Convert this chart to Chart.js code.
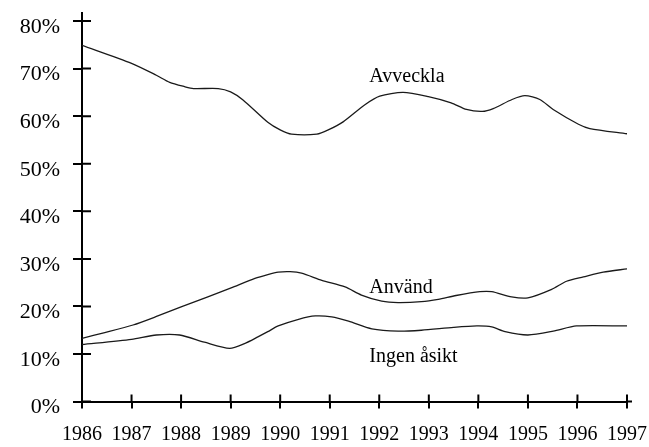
<!DOCTYPE html>
<html>
<head>
<meta charset="utf-8">
<script src="https://cdn.jsdelivr.net/npm/chart.js@4.4.1/dist/chart.umd.min.js"></script>
<style>
  html, body { margin: 0; padding: 0; background: #fff; }
  #wrap { width: 649px; height: 447px; position: relative; }
</style>
</head>
<body>
<div id="wrap"><canvas id="c" width="649" height="447"></canvas></div>
<script>
// ---- Data ----
const yearTicks = [1986, 1987, 1988, 1989, 1990, 1991, 1992, 1993, 1994, 1995, 1996, 1997];
const percentTicks = [0, 10, 20, 30, 40, 50, 60, 70, 80];

const avvecklaYears  = [1986, 1987, 1987.5, 1987.77, 1988.07, 1988.25, 1988.75, 1989, 1989.25, 1989.75, 1990, 1990.23, 1990.74, 1990.97, 1991.27, 1991.71, 1992.01, 1992.48, 1992.99, 1993.45, 1993.76, 1994.08, 1994.3, 1994.68, 1994.94, 1995.24, 1995.51, 1996.02, 1996.25, 1997];
const avvecklaValues = [74.9, 71.1, 68.6, 67.1, 66.2, 65.8, 65.8, 65.1, 63.4, 58.7, 57.1, 56.2, 56.2, 57.1, 58.8, 62.4, 64.2, 65.0, 64.1, 62.8, 61.4, 61.0, 61.6, 63.5, 64.3, 63.5, 61.4, 58.3, 57.4, 56.3];

const anvandYears  = [1986, 1986.46, 1987.03, 1987.53, 1988, 1988.54, 1989.01, 1989.49, 1989.75, 1989.96, 1990.2, 1990.43, 1990.84, 1991.31, 1991.64, 1992.05, 1992.38, 1992.85, 1993.19, 1993.55, 1994.03, 1994.27, 1994.67, 1995.0, 1995.48, 1995.78, 1996.12, 1996.52, 1997];
const anvandValues = [13.3, 14.5, 16.1, 18.0, 19.9, 22.0, 23.9, 25.9, 26.7, 27.2, 27.3, 27.0, 25.5, 24.1, 22.4, 21.1, 20.8, 21.0, 21.5, 22.3, 23.1, 23.1, 22.0, 21.8, 23.6, 25.3, 26.2, 27.2, 27.9];

const ingenYears  = [1986, 1987, 1987.5, 1987.97, 1988.47, 1988.98, 1989.28, 1989.55, 1989.75, 1989.96, 1990.37, 1990.71, 1991.04, 1991.38, 1991.85, 1992.38, 1992.85, 1993.5, 1993.97, 1994.27, 1994.54, 1995.0, 1995.51, 1995.98, 1997];
const ingenValues = [12.0, 13.1, 14.0, 14.0, 12.5, 11.2, 12.2, 13.6, 14.7, 15.9, 17.3, 18.0, 17.8, 16.9, 15.3, 14.8, 15.0, 15.6, 15.9, 15.7, 14.7, 14.0, 14.8, 15.9, 15.9];

const seriesLabels = ["Avveckla", "Använd", "Ingen åsikt"];
const labelYears   = [1991.8, 1991.8, 1991.8];
const labelValues  = [67.2, 22.9, 8.4];

// ---- Chart ----
const FONT = '"Liberation Serif", "Times New Roman", serif';
function pts(xs, ys) { return xs.map((x, i) => ({ x: x, y: ys[i] })); }

const lineStyle = { borderColor: '#1a1a1a', borderWidth: 1.3, pointRadius: 0, fill: false, tension: 0.25 };

const crossTicks = {
  id: 'crossTicks',
  afterDraw(chart) {
    const ctx = chart.ctx, a = chart.chartArea;
    const xs = chart.scales.x, ys = chart.scales.y;
    ctx.save();
    ctx.strokeStyle = '#000';
    ctx.lineWidth = 2;
    ctx.beginPath();
    // inner halves of tick marks
    percentTicks.forEach(v => { const p = ys.getPixelForValue(v); ctx.moveTo(a.left, p); ctx.lineTo(a.left + 9, p); });
    yearTicks.forEach(v => { const p = xs.getPixelForValue(v); ctx.moveTo(p, a.bottom); ctx.lineTo(p, a.bottom - 7); });
    // axis overhangs
    ctx.moveTo(a.left, a.top); ctx.lineTo(a.left, a.top - 9);
    ctx.moveTo(a.right, a.bottom); ctx.lineTo(a.right + 5, a.bottom);
    ctx.stroke();
    // series labels
    ctx.fillStyle = '#000';
    ctx.font = '20px ' + FONT;
    ctx.textAlign = 'left';
    ctx.textBaseline = 'alphabetic';
    seriesLabels.forEach((t, i) => {
      ctx.fillText(t, xs.getPixelForValue(labelYears[i]), ys.getPixelForValue(labelValues[i]));
    });
    ctx.restore();
  }
};

new Chart(document.getElementById('c'), {
  type: 'line',
  data: {
    datasets: [
      Object.assign({ label: seriesLabels[0], data: pts(avvecklaYears, avvecklaValues) }, lineStyle),
      Object.assign({ label: seriesLabels[1], data: pts(anvandYears, anvandValues) }, lineStyle),
      Object.assign({ label: seriesLabels[2], data: pts(ingenYears, ingenValues) }, lineStyle)
    ]
  },
  options: {
    responsive: false,
    animation: false,
    devicePixelRatio: 1,
    layout: { padding: { top: 21, right: 22, left: 0, bottom: 0 } },
    plugins: { legend: { display: false }, tooltip: { enabled: false } },
    scales: {
      x: {
        type: 'linear',
        min: yearTicks[0],
        max: yearTicks[yearTicks.length - 1],
        afterBuildTicks: s => { s.ticks = yearTicks.map(v => ({ value: v })); },
        afterFit: s => { s.height = 45.4; s.paddingLeft = 0; s.paddingRight = 0; },
        grid: { drawOnChartArea: false, drawTicks: true, tickLength: 7, color: '#000', lineWidth: 2 },
        border: { display: true, color: '#000', width: 2 },
        ticks: { padding: 14, color: '#000', font: { family: FONT, size: 20 }, maxRotation: 0, autoSkip: false, callback: v => String(v) }
      },
      y: {
        type: 'linear',
        min: percentTicks[0],
        max: percentTicks[percentTicks.length - 1],
        afterBuildTicks: s => { s.ticks = percentTicks.map(v => ({ value: v })); },
        afterFit: s => { s.width = 82; s.paddingTop = 0; s.paddingBottom = 0; },
        grid: { drawOnChartArea: false, drawTicks: true, tickLength: 9, color: '#000', lineWidth: 2 },
        border: { display: true, color: '#000', width: 2 },
        ticks: { padding: 13, labelOffset: 6, color: '#000', font: { family: FONT, size: 22 }, callback: v => v + '%' }
      }
    }
  },
  plugins: [crossTicks]
});
</script>
</body>
</html>
